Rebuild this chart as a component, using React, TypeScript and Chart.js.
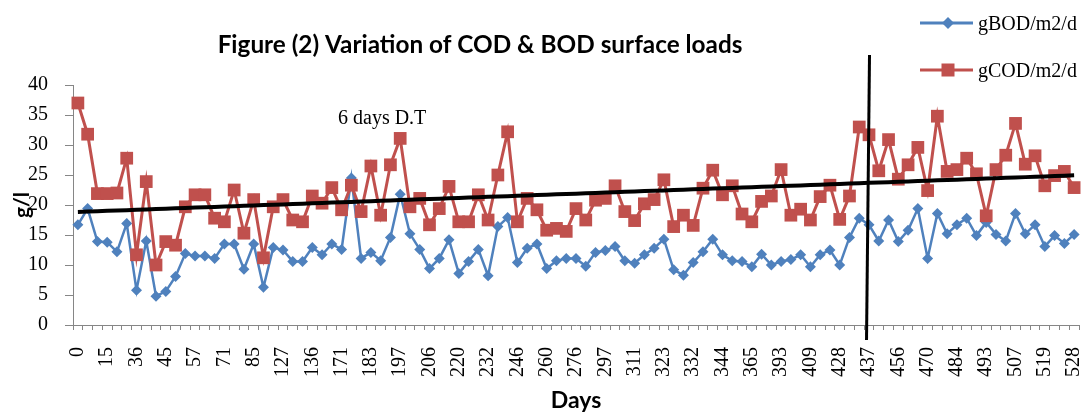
import React, { useEffect, useRef } from 'react';
import { Chart, registerables } from 'chart.js';

Chart.register(...registerables);

// ---- data ----
const dayTicks = [0, 15, 36, 45, 57, 71, 85, 127, 136, 171, 183, 197, 206, 220, 232, 246, 260, 276, 297, 311, 323, 332, 344, 365, 393, 409, 428, 437, 456, 470, 484, 493, 507, 519, 528];

const bodValues = [
  16.7, 19.4, 13.9, 13.8, 12.2, 16.9, 5.8, 14.0, 4.8, 5.6,
  8.1, 11.9, 11.5, 11.5, 11.1, 13.5, 13.5, 9.3, 13.5, 6.3,
  12.9, 12.5, 10.6, 10.6, 12.9, 11.7, 13.5, 12.6, 24.5, 11.1,
  12.1, 10.7, 14.6, 21.8, 15.2, 12.6, 9.4, 11.1, 14.2, 8.6,
  10.6, 12.6, 8.2, 16.4, 17.9, 10.4, 12.8, 13.5, 9.4, 10.7,
  11.1, 11.1, 9.8, 12.1, 12.4, 13.1, 10.7, 10.3, 11.7, 12.8,
  14.3, 9.2, 8.3, 10.4, 12.2, 14.3, 11.7, 10.7, 10.6, 9.7,
  11.8, 10.0, 10.6, 10.9, 11.7, 9.7, 11.7, 12.5, 10.0, 14.6,
  17.8, 16.7, 14.0, 17.5, 13.9, 15.8, 19.4, 11.1, 18.6, 15.2,
  16.7, 17.8, 14.9, 17.1, 15.1, 14.0, 18.6, 15.2, 16.7, 13.1,
  14.9, 13.6, 15.1,
];

const codValues = [
  37.0, 31.8, 21.9, 21.9, 22.0, 27.8, 11.7, 23.9, 10.0, 13.9,
  13.3, 19.7, 21.7, 21.7, 17.8, 17.2, 22.5, 15.3, 20.9, 11.2,
  19.7, 20.9, 17.5, 17.2, 21.5, 20.3, 22.9, 19.2, 23.3, 18.9,
  26.5, 18.3, 26.7, 31.1, 19.7, 21.1, 16.7, 19.4, 23.1, 17.2,
  17.2, 21.7, 17.5, 25.0, 32.2, 17.2, 21.1, 19.2, 15.8, 16.1,
  15.6, 19.4, 17.5, 20.8, 21.1, 23.2, 18.9, 17.4, 20.2, 20.9,
  24.2, 16.4, 18.3, 16.6, 22.8, 25.8, 21.7, 23.2, 18.5, 17.2,
  20.6, 21.5, 25.9, 18.3, 19.3, 17.5, 21.4, 23.3, 17.6, 21.5,
  33.0, 31.7, 25.7, 30.9, 24.3, 26.7, 29.6, 22.4, 34.8, 25.6,
  25.9, 27.8, 25.2, 18.2, 25.9, 28.3, 33.6, 26.8, 28.2, 23.2,
  24.9, 25.6, 22.9,
];

const seriesNames = ['gBOD/m2/d', 'gCOD/m2/d'];
const titleText = 'Figure (2) Variation of COD & BOD surface loads';
const noteText = '6 days D.T';
const xTitle = 'Days';
const yTitle = 'g/l';
const markerDay = 437; // day where the vertical separator is drawn
const yTickValues = [0, 5, 10, 15, 20, 25, 30, 35, 40];

const BLUE = '#4F81BD';
const RED = '#C0504D';
const AXIS = '#868686';

// category labels: one visible day label every third sample
const categories = codValues.map((_, i) => (i % 3 === 0 ? String(dayTicks[i / 3]) : ''));
const markerIndex = dayTicks.indexOf(markerDay) * 3;

// linear trendline (least squares) of the COD series
function linearTrend(values: number[]): number[] {
  const n = values.length;
  let sx = 0, sy = 0, sxx = 0, sxy = 0;
  values.forEach((v, i) => { sx += i; sy += v; sxx += i * i; sxy += i * v; });
  const b = (n * sxy - sx * sy) / (n * sxx - sx * sx);
  const a = (sy - b * sx) / n;
  return values.map((_, i) => a + b * i);
}
const codTrend = linearTrend(codValues);

function diamond(ctx: CanvasRenderingContext2D, x: number, y: number, r: number) {
  ctx.beginPath();
  ctx.moveTo(x, y - r);
  ctx.lineTo(x + r, y);
  ctx.lineTo(x, y + r);
  ctx.lineTo(x - r, y);
  ctx.closePath();
  ctx.fill();
}

const annotPlugin = {
  id: 'annot',
  afterDraw(chart: any) {
    const ctx: CanvasRenderingContext2D = chart.ctx;
    const xs = chart.scales.x;
    ctx.save();

    // title
    ctx.fillStyle = '#000';
    ctx.font = 'bold 26px Lato';
    const w = ctx.measureText(titleText).width;
    const size = (26 * 525) / w;
    ctx.font = `bold ${size.toFixed(2)}px Lato`;
    ctx.textAlign = 'center';
    ctx.textBaseline = 'middle';
    ctx.fillText(titleText, 480, 45);

    // note
    ctx.font = '20px "Liberation Serif"';
    ctx.textAlign = 'left';
    ctx.fillText(noteText, 338, 119);

    // vertical separator
    const vx = xs.getPixelForValue(markerIndex);
    ctx.strokeStyle = '#000';
    ctx.lineWidth = 3;
    ctx.beginPath();
    ctx.moveTo(vx + 0.5, 55);
    ctx.lineTo(vx - 2.5, 340);
    ctx.stroke();

    // legend
    const lx0 = 920, lx1 = 973, lm = 948, tx = 978;
    const rows = [
      { y: 23, color: BLUE, name: seriesNames[0], kind: 'diamond' },
      { y: 70, color: RED, name: seriesNames[1], kind: 'square' },
    ];
    rows.forEach((r) => {
      ctx.strokeStyle = r.color;
      ctx.fillStyle = r.color;
      ctx.lineWidth = 3;
      ctx.beginPath();
      ctx.moveTo(lx0, r.y);
      ctx.lineTo(lx1, r.y);
      ctx.stroke();
      if (r.kind === 'diamond') diamond(ctx, lm, r.y, 6);
      else ctx.fillRect(lm - 6.5, r.y - 6.5, 13, 13);
      ctx.fillStyle = '#000';
      ctx.font = '20px "Liberation Serif"';
      ctx.textAlign = 'left';
      ctx.textBaseline = 'middle';
      ctx.fillText(r.name, tx, r.y + 2);
    });
    ctx.restore();
  },
};

export default function App() {
  const ref = useRef<HTMLCanvasElement | null>(null);

  useEffect(() => {
    if (!ref.current) return;
    const chart = new Chart(ref.current, {
      type: 'line',
      data: {
        labels: categories,
        datasets: [
          {
            label: 'trend',
            data: codTrend,
            borderColor: '#000',
            borderWidth: 4,
            pointRadius: 0,
            fill: false,
            order: 0,
          },
          {
            label: seriesNames[1],
            data: codValues,
            borderColor: RED,
            backgroundColor: RED,
            borderWidth: 3,
            pointStyle: 'rect',
            pointRadius: 9,
            pointBorderWidth: 0,
            fill: false,
            order: 1,
          },
          {
            label: seriesNames[0],
            data: bodValues,
            borderColor: BLUE,
            backgroundColor: BLUE,
            borderWidth: 2.5,
            pointStyle: 'rectRot',
            pointRadius: 5.5,
            pointBorderWidth: 0,
            fill: false,
            order: 2,
          },
        ],
      },
      options: {
        responsive: false,
        animation: false,
        layout: { padding: { top: 85, right: 0, bottom: 0, left: 0 } },
        plugins: {
          legend: { display: false },
          title: { display: false },
          tooltip: { enabled: false },
        },
        scales: {
          x: {
            type: 'category',
            offset: true,
            grid: {
              offset: true,
              drawOnChartArea: false,
              drawTicks: true,
              tickLength: 5,
              color: AXIS,
            },
            border: { color: AXIS, width: 1 },
            ticks: {
              autoSkip: false,
              maxRotation: 90,
              minRotation: 90,
              padding: 17,
              color: '#000',
              font: { family: '"Liberation Serif"', size: 20 },
            },
            title: {
              display: true,
              text: xTitle,
              color: '#000',
              font: { family: 'Lato', weight: 'bold', size: 23, lineHeight: 1 },
              padding: { top: 0, bottom: 0 },
            },
            afterFit: (s: any) => {
              s.height = 87;
              s.paddingLeft = 0;
              s.paddingRight = 0;
            },
          },
          y: {
            min: 0,
            max: 40,
            afterBuildTicks: (s: any) => {
              s.ticks = yTickValues.map((v) => ({ value: v }));
            },
            grid: {
              drawOnChartArea: false,
              drawTicks: true,
              tickLength: 8,
              color: AXIS,
            },
            border: { color: AXIS, width: 1 },
            ticks: {
              padding: 17,
              color: '#000',
              font: { family: '"Liberation Serif"', size: 20 },
            },
            title: {
              display: true,
              text: yTitle,
              color: '#000',
              font: { family: 'Lato', weight: 'bold', size: 21, lineHeight: 1.2 },
              padding: { top: 10, bottom: 0 },
            },
            afterFit: (s: any) => {
              s.width = 73;
            },
          },
        },
      },
      plugins: [annotPlugin],
    });
    return () => chart.destroy();
  }, []);

  return (
    <div style={{ position: 'fixed', left: 0, top: 0, width: 1088, height: 412, background: '#fff', overflow: 'hidden' }}>
      <canvas ref={ref} width={1088} height={412} style={{ display: 'block' }} />
    </div>
  );
}
